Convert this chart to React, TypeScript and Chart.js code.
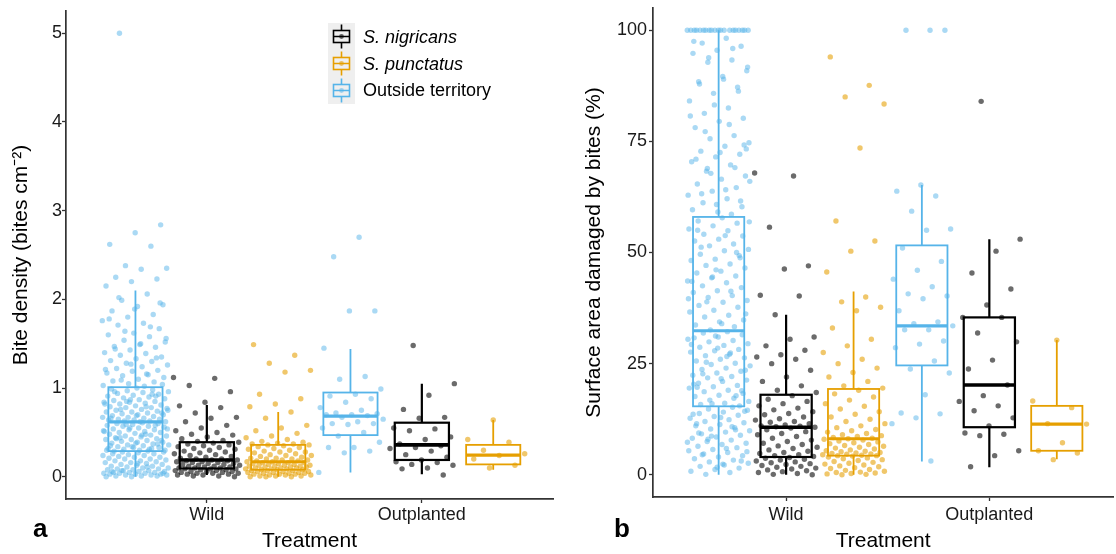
import React, { useEffect, useRef } from "react";
import { Chart, registerables } from "chart.js";

Chart.register(...registerables);
Chart.defaults.font.family = "'Liberation Sans', Arial, sans-serif";

// ---------------- shared categories ----------------
const treatments = ["Wild", "Outplanted"];
const groupNames = ["S. nigricans", "S. punctatus", "Outside territory"];

// ---------------- panel a : bite density ----------------
const densityTicks = [0, 1, 2, 3, 4, 5];
// box stats per treatment [Wild, Outplanted]: [whiskerLow, Q1, median, Q3, whiskerHigh]
const densityNigricansBox = [[0.02, 0.094, 0.19, 0.39, 0.81], [0.03, 0.19, 0.36, 0.61, 1.05]];
const densityPunctatusBox = [[0, 0.08, 0.17, 0.36, 0.73], [0.08, 0.14, 0.245, 0.36, 0.64]];
const densityOutsideBox = [[0, 0.29, 0.62, 1.01, 2.1], [0.05, 0.47, 0.685, 0.95, 1.44]];

const densityNigricansWild = [1.12, 1.11, 1.03, 0.96, 0.84, 0.8, 0.78, 0.72, 0.67, 0.66, 0.62, 0.58, 0.55, 0.52, 0.5, 0.48, 0.47, 0.45, 0.43, 0.41, 0.4, 0.39,
  0.38, 0.37, 0.36, 0.35, 0.34, 0.33, 0.32, 0.31, 0.3, 0.29, 0.28, 0.27, 0.26, 0.25, 0.24, 0.23, 0.22, 0.21, 0.2, 0.2, 0.19,
  0.19, 0.18, 0.18, 0.17, 0.17, 0.16, 0.16, 0.15, 0.15, 0.14, 0.14, 0.13, 0.13, 0.12, 0.12, 0.11, 0.11, 0.1, 0.1, 0.1, 0.09,
  0.09, 0.09, 0.08, 0.08, 0.07, 0.07, 0.06, 0.06, 0.06, 0.05, 0.05, 0.04, 0.04, 0.04, 0.03, 0.03, 0.02, 0.02, 0.01, 0.01, 0.0];
const densityPunctatusWild = [1.49, 1.37, 1.28, 1.2, 1.18, 0.93, 0.88, 0.82, 0.79, 0.73, 0.66, 0.58, 0.55, 0.52, 0.49, 0.46, 0.44, 0.42, 0.4, 0.39, 0.38, 0.37, 0.37, 0.36, 0.36,
  0.35, 0.34, 0.33, 0.32, 0.31, 0.3, 0.29, 0.28, 0.28, 0.27, 0.26, 0.25, 0.24, 0.24, 0.23, 0.22, 0.21, 0.21, 0.2, 0.2, 0.19, 0.19, 0.18, 0.18, 0.17,
  0.17, 0.16, 0.16, 0.16, 0.15, 0.15, 0.14, 0.14, 0.13, 0.13, 0.13, 0.12, 0.12, 0.12, 0.11, 0.11, 0.11, 0.1, 0.1, 0.1, 0.09, 0.09, 0.09, 0.08, 0.08,
  0.08, 0.07, 0.07, 0.07, 0.06, 0.06, 0.06, 0.05, 0.05, 0.05, 0.04, 0.04, 0.04, 0.03, 0.03, 0.03, 0.02, 0.02, 0.02, 0.01, 0.01, 0.01, 0.0, 0.0, 0.0];
const densityOutsideWild = [5.0, 2.84, 2.75, 2.62, 2.6, 2.38, 2.35, 2.34, 2.25, 2.23, 2.2, 2.15,
  2.06, 1.99, 1.94, 1.92, 1.87, 1.83, 1.8, 1.76, 1.73, 1.71, 1.67, 1.62, 1.6, 1.58, 1.54, 1.52, 1.49, 1.47, 1.46, 1.43, 1.4, 1.39, 1.37, 1.35, 1.33, 1.31, 1.3, 1.28, 1.26, 1.24, 1.22, 1.2, 1.19, 1.17, 1.15, 1.14, 1.12, 1.1, 1.08, 1.07, 1.05, 1.03, 1.02,
  2.02, 1.96, 1.89, 1.78, 1.69, 1.64, 1.56, 1.5, 1.44, 1.34, 1.27, 1.21, 1.16, 1.09, 1.04,
  1.0, 0.99, 0.98, 0.97, 0.96, 0.95, 0.94, 0.93, 0.92, 0.91, 0.9, 0.89, 0.88, 0.87, 0.86, 0.85, 0.84, 0.84, 0.83, 0.82, 0.81, 0.8, 0.79, 0.78, 0.78, 0.77, 0.76, 0.75, 0.74, 0.73, 0.73, 0.72, 0.71, 0.7, 0.7, 0.69, 0.68, 0.67, 0.67, 0.66, 0.65, 0.65, 0.64, 0.64, 0.63, 0.63, 0.62, 0.62, 0.96, 0.91, 0.87, 0.82, 0.79, 0.76, 0.72, 0.69, 0.66, 0.93, 0.85, 0.75,
  0.61, 0.6, 0.6, 0.59, 0.58, 0.57, 0.57, 0.56, 0.55, 0.54, 0.53, 0.53, 0.52, 0.51, 0.5, 0.5, 0.49, 0.48, 0.47, 0.46, 0.46, 0.45, 0.44, 0.43, 0.42, 0.42, 0.41, 0.4, 0.39, 0.39, 0.38, 0.37, 0.36, 0.36, 0.35, 0.34, 0.33, 0.33, 0.32, 0.31, 0.31, 0.3, 0.3, 0.29, 0.58, 0.55, 0.51, 0.48, 0.44, 0.41, 0.38, 0.35, 0.32, 0.59, 0.54, 0.47, 0.43, 0.37, 0.34, 0.3,
  0.29, 0.28, 0.28, 0.27, 0.26, 0.26, 0.25, 0.24, 0.24, 0.23, 0.22, 0.22, 0.21, 0.2, 0.2, 0.19, 0.18, 0.18, 0.17, 0.16, 0.16, 0.15, 0.14, 0.14, 0.13, 0.12, 0.12, 0.11, 0.1, 0.1, 0.09, 0.09, 0.08, 0.08, 0.07, 0.07, 0.06, 0.06, 0.05, 0.05, 0.05, 0.04, 0.04, 0.04, 0.03, 0.03, 0.03, 0.02, 0.02, 0.02, 0.01, 0.01, 0.01, 0.0, 0.0, 0.11, 0.07, 0.04, 0.15, 0.06];
const densityNigricansOut = [1.48, 1.05, 0.92, 0.76, 0.67, 0.66, 0.55, 0.54, 0.52, 0.45, 0.42, 0.37, 0.35, 0.33, 0.32, 0.29, 0.25, 0.22, 0.19, 0.17, 0.16, 0.14, 0.13, 0.1, 0.09, 0.02];
const densityPunctatusOut = [0.64, 0.42, 0.39, 0.3, 0.26, 0.24, 0.2, 0.13, 0.1];
const densityOutsideOut = [2.7, 2.48, 1.87, 1.87, 1.45, 1.13, 1.1, 0.99, 0.93, 0.91, 0.88, 0.84, 0.78, 0.75, 0.72, 0.71, 0.7, 0.7, 0.69, 0.67, 0.65, 0.62, 0.6, 0.6, 0.59, 0.55, 0.5, 0.46, 0.39, 0.33, 0.33, 0.29, 0.27, 0.05];

// ---------------- panel b : surface area damaged ----------------
const damageTicks = [0, 25, 50, 75, 100];
const damageNigricansBox = [[0, 4.0, 10.7, 18.0, 36.0], [1.7, 10.7, 20.2, 35.4, 53.0]];
const damagePunctatusBox = [[0, 4.3, 8.1, 19.3, 41.2], [3.5, 5.4, 11.4, 15.5, 30.3]];
const damageOutsideBox = [[0, 15.4, 32.4, 58.0, 100], [3.0, 24.6, 33.5, 51.6, 65.2]];

const damageNigricansWild = [67.9, 67.2, 55.7, 47, 46.3, 40.4, 40.2, 36, 31, 30.5, 29, 28, 27, 26.5, 26, 25, 23.5, 22, 21, 20, 19, 18.5,
  17.8, 17, 16.5, 16, 15.5, 15, 14.6, 14.2, 13.8, 13.5, 13, 12.6, 12.3, 12, 11.8, 11.5, 11.2, 11, 10.9, 10.8, 10.7,
  10.5, 10.1, 9.7, 9.3, 9, 8.6, 8.2, 7.8, 7.5, 7.1, 6.8, 6.5, 6.2, 5.9, 5.6, 5.3, 5, 4.8, 4.5, 4.3, 4.1,
  3.9, 3.7, 3.5, 3.3, 3.1, 2.9, 2.7, 2.5, 2.3, 2.1, 1.9, 1.7, 1.5, 1.3, 1.1, 0.9, 0.7, 0.5, 0.3, 0.1, 0];
const damagePunctatusWild = [94, 87.6, 85, 83.4, 73.5, 57.1, 52.6, 50.3, 45.6, 40, 38.9, 37.7, 36.9, 33, 30.5, 29, 27.5, 26, 25, 24, 23, 22, 21, 20, 19.5,
  19, 18.2, 17.5, 16.8, 16, 15.4, 14.8, 14.2, 13.6, 13, 12.5, 12, 11.5, 11, 10.6, 10.2, 9.9, 9.6, 9.3, 9, 8.8, 8.6, 8.4, 8.2, 8.1,
  8.0, 7.8, 7.6, 7.4, 7.2, 7.0, 6.8, 6.6, 6.4, 6.2, 6.0, 5.8, 5.6, 5.4, 5.3, 5.2, 5.0, 4.9, 4.8, 4.7, 4.6, 4.5, 4.4, 4.3, 4.3,
  4.2, 4.0, 3.8, 3.6, 3.4, 3.2, 3.0, 2.8, 2.6, 2.4, 2.2, 2.0, 1.8, 1.6, 1.4, 1.2, 1.0, 0.8, 0.6, 0.5, 0.4, 0.3, 0.2, 0.1, 0];
const damageOutsideWild = [100, 100, 100, 100, 100, 100, 100, 100, 100, 100, 100, 100, 100, 100, 100, 100, 100, 100, 100, 100,
  98.2, 97.1, 96.4, 95.5, 94.8, 93.3, 92.8, 90.9, 89.6, 88.4, 87.2, 85.8, 84.1, 82.5, 81.3, 80.2, 79.5, 78.1, 76.3, 75.6, 74.7, 73.9, 72.8, 72.1, 71.5, 70.4, 69.7, 68.3, 67.2, 66.5, 65.4, 64.6, 63.8, 62.9, 62.1, 61.2, 60.3, 59.1,
  97.5, 95.9, 93.8, 91.7, 89.0, 87.9, 86.3, 83.2, 80.7, 78.8, 77.2, 74.2, 72.5, 71.0, 69.1, 67.8, 66.0, 64.1, 63.2, 61.6, 60.8, 59.6, 58.6, 68.9, 73.3,
  57.8, 57.1, 56.6, 56.0, 55.3, 54.9, 54.1, 53.7, 53.0, 52.6, 51.9, 51.5, 50.7, 50.4, 49.6, 49.3, 48.5, 48.2, 47.4, 47.1, 46.5, 45.8, 45.4, 44.7, 44.3, 43.6, 43.2, 42.5, 42.1, 41.4, 41.0, 40.3, 39.9, 39.2, 38.8, 38.1, 37.7, 37.0, 36.6, 35.9, 35.5, 34.8, 34.4, 33.7, 33.3, 32.6, 56.9, 53.8, 51.2, 48.8, 46.1, 43.5, 41.3, 38.9, 36.2, 34.0, 55.0, 50.0, 44.5, 39.6,
  32.2, 31.9, 31.5, 31.0, 30.8, 30.2, 29.9, 29.5, 29.1, 28.7, 28.2, 27.9, 27.6, 27.1, 26.8, 26.3, 26.0, 25.6, 25.1, 24.8, 24.5, 24.0, 23.7, 23.3, 22.9, 22.4, 22.1, 21.8, 21.3, 21.0, 20.6, 20.1, 19.8, 19.5, 19.0, 18.7, 18.3, 17.9, 17.6, 17.2, 16.8, 16.5, 16.1, 15.8, 15.5, 31.2, 29.3, 27.4, 25.3, 23.5, 21.6, 19.7, 17.8, 16.0, 30.5, 26.6, 22.7, 18.9, 28.5, 20.4,
  15.2, 14.8, 14.5, 14.1, 13.8, 13.4, 13.1, 12.7, 12.4, 12.0, 11.7, 11.3, 11.0, 10.6, 10.3, 9.9, 9.6, 9.2, 8.9, 8.5, 8.2, 7.8, 7.5, 7.1, 6.8, 6.4, 6.1, 5.7, 5.4, 5.0, 4.7, 4.3, 4.0, 3.6, 3.3, 2.9, 2.6, 2.2, 1.9, 1.5, 1.2, 0.8, 0.5, 0.1, 14.3, 12.9, 11.5, 10.1, 8.7, 7.3, 5.9, 4.5, 3.1, 1.7, 13.6, 10.8, 8.0, 5.2, 2.4, 9.4];
const damageNigricansOut = [84, 53, 50.3, 45.4, 41.8, 38.2, 35.4, 35.4, 31.9, 29.9, 25.8, 23.8, 20.2, 17.8, 16.5, 15.5, 14.4, 12.8, 11, 9.4, 9.1, 8.8, 5.4, 4.3, 1.8];
const damagePunctatusOut = [30.3, 16.6, 15.1, 11.5, 11.4, 7.2, 5.4, 4.9, 3.4];
const damageOutsideOut = [100, 100, 100, 65.2, 63.8, 62.7, 59.3, 55.3, 55, 51, 48, 46, 44, 42.3, 40.7, 40.2, 39.6, 36.9, 34.4, 34, 33.5, 32.6, 32.6, 30.1, 29.4, 28.6, 25.6, 23.8, 22.9, 18, 13.9, 13.7, 12.8, 11.5, 3.1];

// ---------------- styling ----------------
const groupColors = ["#000000", "#E69F00", "#56B4E9"];
const pointColors = ["rgba(0,0,0,0.58)", "rgba(230,159,0,0.58)", "rgba(86,180,233,0.5)"];
const dodge = [0, 0.332, -0.332];
const BOX_HALF = 0.126;
const JITTER = 0.155;
const X_MIN = 0.345;
const X_MAX = 2.61;
const FONT_TICK = 18;
const FONT_TITLE = 21;

function jitter(i: number, seed: number) {
  const f = (i * 0.6180339887 + seed) % 1;
  return (f - 0.5) * 2 * JITTER;
}

type PanelSpec = {
  yMin: number;
  yMax: number;
  yTicks: number[];
  yTitle: string;
  yAxisWidth: number;
  yTitlePad: number;
  yTickPad: number;
  xAxisHeight: number;
  xTickPad: number;
  padRight: number;
  padTop: number;
  points: number[][][];
  boxes: number[][][];
  letter: string;
  letterX: number;
  legend: boolean;
};

const panelA: PanelSpec = {
  yMin: -0.25,
  yMax: 5.25,
  yTicks: densityTicks,
  yTitle: "Bite density (bites cm\u207B\u00B2)",
  yAxisWidth: 66,
  yTitlePad: 9,
  yTickPad: 0,
  xAxisHeight: 55,
  xTickPad: 1,
  padRight: 7,
  padTop: 11,
  points: [
    [densityNigricansWild, densityNigricansOut],
    [densityPunctatusWild, densityPunctatusOut],
    [densityOutsideWild, densityOutsideOut],
  ],
  boxes: [densityNigricansBox, densityPunctatusBox, densityOutsideBox],
  letter: "a",
  letterX: 33,
  legend: true,
};

const panelB: PanelSpec = {
  yMin: -5,
  yMax: 105,
  yTicks: damageTicks,
  yTitle: "Surface area damaged by bites (%)",
  yAxisWidth: 93,
  yTitlePad: 22,
  yTickPad: 2,
  xAxisHeight: 57,
  xTickPad: 3,
  padRight: 0,
  padTop: 8,
  points: [
    [damageNigricansWild, damageNigricansOut],
    [damagePunctatusWild, damagePunctatusOut],
    [damageOutsideWild, damageOutsideOut],
  ],
  boxes: [damageNigricansBox, damagePunctatusBox, damageOutsideBox],
  letter: "b",
  letterX: 54,
  legend: false,
};

function makeConfig(p: PanelSpec): any {
  const datasets: any[] = [];
  [2, 0, 1].forEach((g) => {
    treatments.forEach((_, t) => {
      datasets.push({
        label: groupNames[g] + " – " + treatments[t],
        data: p.points[g][t].map((v, i) => ({ x: t + 1 + dodge[g] + jitter(i, 0.13 * g + 0.37 * t), y: v })),
        backgroundColor: pointColors[g],
        borderWidth: 0,
        pointRadius: 2.7,
        pointHoverRadius: 2.7,
      });
    });
  });

  const boxPlugin = {
    id: "boxes",
    afterDatasetsDraw(chart: any) {
      const { ctx, scales } = chart;
      const xs = scales.x;
      const ys = scales.y;
      ctx.save();
      ctx.lineCap = "butt";
      p.boxes.forEach((byT, g) => {
        byT.forEach((st, t) => {
          const pos = t + 1 + dodge[g];
          const xl = xs.getPixelForValue(pos - BOX_HALF);
          const xr = xs.getPixelForValue(pos + BOX_HALF);
          const xc = xs.getPixelForValue(pos);
          const [lo, q1, med, q3, hi] = st.map((v) => ys.getPixelForValue(v));
          ctx.strokeStyle = groupColors[g];
          ctx.lineWidth = g === 0 ? 2.2 : 1.8;
          ctx.beginPath();
          ctx.moveTo(xc, q3);
          ctx.lineTo(xc, hi);
          ctx.moveTo(xc, q1);
          ctx.lineTo(xc, lo);
          ctx.stroke();
          ctx.strokeRect(xl, q3, xr - xl, q1 - q3);
          ctx.lineWidth = g === 0 ? 3.6 : 3.2;
          ctx.beginPath();
          ctx.moveTo(xl, med);
          ctx.lineTo(xr, med);
          ctx.stroke();
        });
      });
      ctx.restore();
    },
  };

  const decorPlugin = {
    id: "decor",
    afterDraw(chart: any) {
      const { ctx, chartArea } = chart;
      ctx.save();
      ctx.fillStyle = "#000";
      ctx.font = "bold 26px 'Liberation Sans', Arial, sans-serif";
      ctx.textAlign = "left";
      ctx.textBaseline = "alphabetic";
      ctx.fillText(p.letter, p.letterX, 537);
      if (p.legend) {
        const kx = chartArea.left + 262;
        const ky = chartArea.top + 12;
        ctx.fillStyle = "#efefef";
        ctx.fillRect(kx, ky, 27, 81);
        [0, 1, 2].forEach((g, i) => {
          const cx = kx + 13.5;
          const cy = ky + 13.5 + i * 27;
          ctx.strokeStyle = groupColors[g];
          ctx.lineWidth = 1.6;
          ctx.beginPath();
          ctx.moveTo(cx, cy - 12);
          ctx.lineTo(cx, cy - 6);
          ctx.moveTo(cx, cy + 6);
          ctx.lineTo(cx, cy + 12);
          ctx.moveTo(cx - 8, cy);
          ctx.lineTo(cx + 8, cy);
          ctx.stroke();
          ctx.strokeRect(cx - 8, cy - 6, 16, 12);
          ctx.fillStyle = pointColors[g];
          ctx.beginPath();
          ctx.arc(cx, cy, 2.4, 0, Math.PI * 2);
          ctx.fill();
          ctx.fillStyle = "#000";
          ctx.font = (g < 2 ? "italic " : "") + "18px 'Liberation Sans', Arial, sans-serif";
          ctx.textBaseline = "middle";
          ctx.fillText(groupNames[g], kx + 35, cy + 1);
        });
      }
      ctx.restore();
    },
  };

  return {
    type: "scatter",
    data: { datasets },
    plugins: [boxPlugin, decorPlugin],
    options: {
      animation: false,
      responsive: false,
      maintainAspectRatio: false,
      events: [],
      layout: { padding: { left: 0, right: p.padRight, top: p.padTop, bottom: 0 } },
      plugins: { legend: { display: false }, tooltip: { enabled: false }, title: { display: false } },
      scales: {
        x: {
          type: "linear",
          min: X_MIN,
          max: X_MAX,
          afterBuildTicks: (s: any) => {
            s.ticks = treatments.map((_, i) => ({ value: i + 1 }));
          },
          afterFit: (s: any) => {
            s.height = p.xAxisHeight;
            s.paddingLeft = 0;
            s.paddingRight = 0;
          },
          ticks: {
            autoSkip: false,
            maxRotation: 0,
            padding: p.xTickPad,
            color: "#1a1a1a",
            font: { size: FONT_TICK },
            callback: (v: number) => treatments[Math.round(v) - 1] ?? "",
          },
          grid: { display: true, drawOnChartArea: false, drawTicks: true, tickLength: 4, tickColor: "#333", tickWidth: 1.3 },
          border: { display: true, color: "#333", width: 1.7 },
          title: { display: true, text: "Treatment", color: "#000", font: { size: FONT_TITLE }, padding: { top: 0, bottom: 0 } },
        },
        y: {
          type: "linear",
          min: p.yMin,
          max: p.yMax,
          afterBuildTicks: (s: any) => {
            s.ticks = p.yTicks.map((v) => ({ value: v }));
          },
          afterFit: (s: any) => {
            s.width = p.yAxisWidth;
            s.paddingTop = 0;
            s.paddingBottom = 0;
          },
          ticks: {
            padding: p.yTickPad,
            color: "#1a1a1a",
            font: { size: FONT_TICK },
            callback: (v: number) => String(v),
          },
          grid: { display: true, drawOnChartArea: false, drawTicks: true, tickLength: 4, tickColor: "#333", tickWidth: 1.3 },
          border: { display: true, color: "#333", width: 1.7 },
          title: { display: true, text: p.yTitle, color: "#000", font: { size: FONT_TITLE }, padding: { top: p.yTitlePad, bottom: 0 } },
        },
      },
    },
  };
}

function Panel({ spec, left, width }: { spec: PanelSpec; left: number; width: number }) {
  const ref = useRef<HTMLCanvasElement>(null);
  useEffect(() => {
    const chart = new Chart(ref.current as HTMLCanvasElement, makeConfig(spec));
    return () => chart.destroy();
  }, [spec]);
  return (
    <canvas
      ref={ref}
      width={width}
      height={554}
      style={{ position: "absolute", left, top: 0, width, height: 554, display: "block" }}
    />
  );
}

export default function App() {
  return (
    <div style={{ position: "absolute", left: 0, top: 0, width: 1116, height: 554, background: "#fff", overflow: "hidden" }}>
      <Panel spec={panelA} left={0} width={560} />
      <Panel spec={panelB} left={560} width={556} />
    </div>
  );
}
